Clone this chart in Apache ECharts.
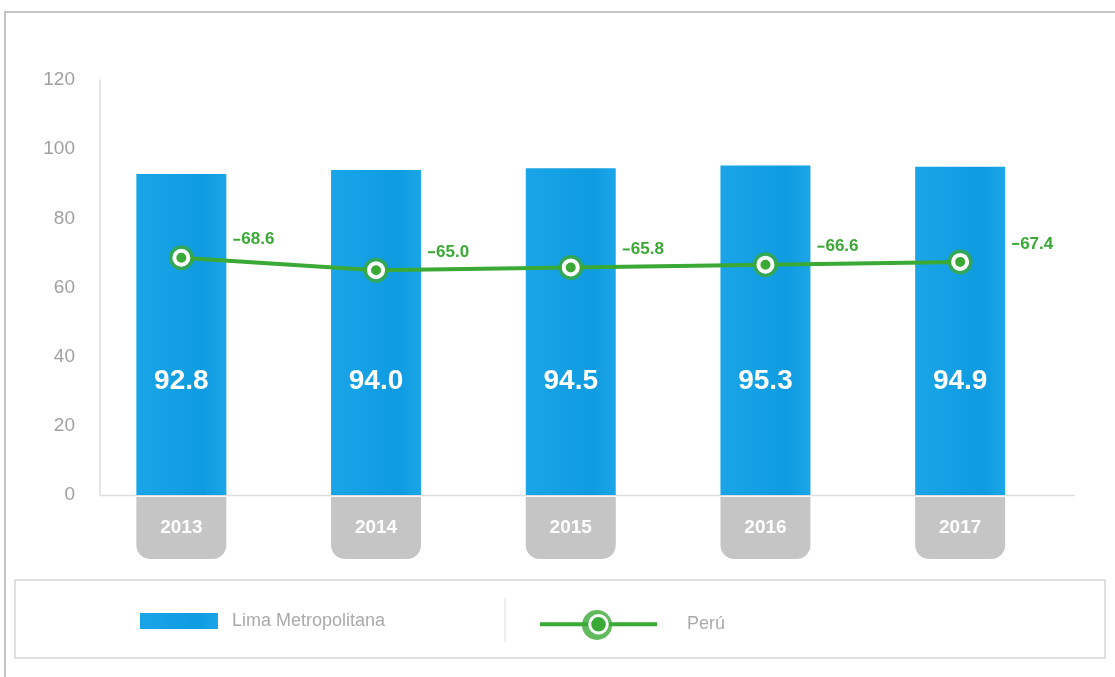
<!DOCTYPE html>
<html>
<head>
<meta charset="utf-8">
<script src="https://cdn.jsdelivr.net/npm/echarts@6/dist/echarts.min.js"></script>
<style>
  html, body { margin: 0; padding: 0; background: #fff; }
  #chart { width: 1115px; height: 677px; }
</style>
</head>
<body>
<div id="chart"></div>
<script>
// data
const years = ['2013', '2014', '2015', '2016', '2017']
const lima = [92.8, 94.0, 94.5, 95.3, 94.9]
const peru = [68.6, 65.0, 65.8, 66.6, 67.4]
const yTicks = [0, 20, 40, 60, 80, 100, 120]

const GREEN = '#3aa935'
const FONT = '"Liberation Sans", Arial, sans-serif'

const chart = echarts.init(document.getElementById('chart'))

chart.setOption({
  animation: false,
  textStyle: {fontFamily: FONT},
  grid: {left: 84, right: 57.5, top: 80, bottom: 182},
  graphic: [
    // outer frame
    {type: 'rect', shape: {x: 5, y: 12, width: 1120, height: 700},
      style: {fill: 'none', stroke: '#c4c4c4', lineWidth: 2}, silent: true},
    // legend box
    {type: 'rect', shape: {x: 15, y: 580, width: 1090, height: 78},
      style: {fill: 'none', stroke: '#d6d6d6', lineWidth: 1.5}, silent: true},
    // legend divider
    {type: 'line', shape: {x1: 505, y1: 598, x2: 505, y2: 642},
      style: {stroke: '#dcdcdc', lineWidth: 1}, silent: true},
    // x axis baseline
    {type: 'line', shape: {x1: 100, y1: 495.5, x2: 1075, y2: 495.5},
      style: {stroke: '#dedede', lineWidth: 1.5}, silent: true, z: 0}
  ],
  legend: [
    {
      data: ['Lima Metropolitana'],
      icon: 'rect',
      left: 135, top: 607,
      itemWidth: 78, itemHeight: 16,
      textStyle: {color: '#aaaaaa', fontSize: 18, fontFamily: FONT, padding: [0, 0, 0, 9]},
      selectedMode: false
    },
    {
      data: ['Perú'],
      left: 533, top: 609,
      itemWidth: 117, itemHeight: 22,
      itemStyle: {borderColor: '#ffffff', borderWidth: 3},
      lineStyle: {width: 4},
      textStyle: {color: '#aaaaaa', fontSize: 18, fontFamily: FONT, padding: [0, 0, 0, 25]},
      selectedMode: false,
      z: 6
    },
    {
      data: ['PeruRing'],
      icon: 'circle',
      left: 577, top: 605,
      itemWidth: 30, itemHeight: 30,
      formatter: () => '',
      selectedMode: false,
      z: 5
    }
  ],
  xAxis: {
    type: 'category',
    data: years,
    axisLine: {show: false},
    axisTick: {show: false},
    axisLabel: {
      margin: 2,
      color: '#ffffff',
      fontWeight: 'bold',
      fontSize: 19,
      fontFamily: FONT,
      backgroundColor: '#c5c5c5',
      width: 90,
      height: 62,
      lineHeight: 62,
      align: 'center',
      borderRadius: [0, 0, 14, 14]
    }
  },
  yAxis: {
    type: 'value',
    min: yTicks[0],
    max: yTicks[yTicks.length - 1],
    interval: 20,
    offset: -16,
    axisLine: {show: true, lineStyle: {color: '#dedede', width: 1.5}},
    axisTick: {show: false},
    splitLine: {show: false},
    axisLabel: {margin: 25, color: '#a0a0a0', fontSize: 19, fontFamily: FONT}
  },
  series: [
    {
      name: 'Lima Metropolitana',
      type: 'bar',
      data: lima,
      barWidth: 90,
      itemStyle: {
        color: new echarts.graphic.LinearGradient(0, 0, 1, 0, [
          {offset: 0, color: '#1aa5e8'},
          {offset: 0.75, color: '#0f9be0'},
          {offset: 1, color: '#1ba6e8'}
        ])
      },
      label: {
        show: true,
        position: 'insideBottom',
        distance: 100,
        color: '#ffffff',
        fontWeight: 'bold',
        fontSize: 28,
        fontFamily: FONT,
        formatter: p => p.value.toFixed(1)
      },
      z: 2
    },
    {
      name: 'PeruRing',
      type: 'scatter',
      data: peru,
      symbol: 'circle',
      symbolSize: 25,
      itemStyle: {color: GREEN},
      silent: true,
      z: 3
    },
    {
      name: 'Perú',
      type: 'line',
      data: peru,
      symbol: 'circle',
      symbolSize: 14,
      lineStyle: {color: GREEN, width: 4},
      itemStyle: {color: GREEN, borderColor: '#ffffff', borderWidth: 4},
      label: {
        show: true,
        position: 'right',
        distance: 5,
        offset: [38, -18],
        formatter: p => '{d|}{v|' + p.value.toFixed(1) + '}',
        rich: {
          d: {width: 7, height: 2, backgroundColor: GREEN},
          v: {color: GREEN, fontWeight: 'bold', fontSize: 17, fontFamily: FONT, padding: [0, 0, 0, 1]}
        }
      },
      z: 4
    }
  ]
})
</script>
</body>
</html>
